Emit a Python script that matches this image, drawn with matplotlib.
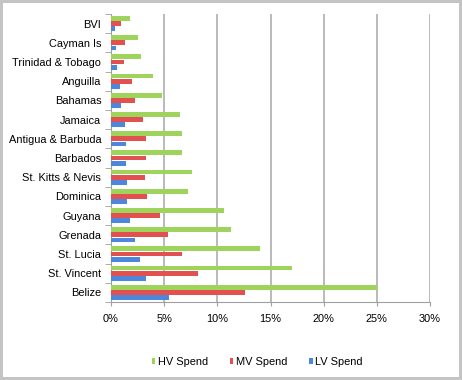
import matplotlib
matplotlib.use("Agg")
import matplotlib.pyplot as plt
import numpy as np
from matplotlib.ticker import FuncFormatter, FixedLocator

plt.rcParams['font.family'] = ['Liberation Sans', 'DejaVu Sans']

categories = ["BVI", "Cayman Is", "Trinidad & Tobago", "Anguilla", "Bahamas",
              "Jamaica", "Antigua & Barbuda", "Barbados", "St. Kitts & Nevis",
              "Dominica", "Guyana", "Grenada", "St. Lucia", "St. Vincent", "Belize"]
hv_spend = [1.8, 2.5, 2.8, 3.95, 4.8, 6.5, 6.7, 6.65, 7.6, 7.2, 10.6, 11.3, 14.05, 17.0, 25.0]
mv_spend = [0.9, 1.3, 1.25, 2.0, 2.3, 3.0, 3.3, 3.3, 3.2, 3.4, 4.6, 5.4, 6.65, 8.2, 12.6]
lv_spend = [0.4, 0.5, 0.55, 0.8, 0.95, 1.3, 1.4, 1.4, 1.55, 1.55, 1.8, 2.25, 2.75, 3.25, 5.45]
xticks = [0, 5, 10, 15, 20, 25, 30]

fig = plt.figure(figsize=(4.62, 3.80), dpi=100)
fig.patch.set_facecolor('white')
fig.patch.set_edgecolor('#c4c4c4')
fig.patch.set_linewidth(3)

ax = fig.add_axes([111/462, 1 - 302/380, (430-111)/462, (302-14)/380])

n = len(categories)
y = np.arange(n)
h = 0.25
off = 0.27
green = '#9ed35c'
red = '#e2504f'
blue = '#4c86dd'
ax.barh(y - off, hv_spend, height=h, color=green, label='HV Spend', zorder=3)
ax.barh(y, mv_spend, height=h, color=red, label='MV Spend', zorder=3)
ax.barh(y + off, lv_spend, height=h, color=blue, label='LV Spend', zorder=3)

ax.set_ylim(n - 0.5, -0.5)
ax.set_xlim(0, 30)
ax.set_yticks(y)
ax.set_yticklabels(categories, fontsize=7.9)
ax.yaxis.set_minor_locator(FixedLocator(np.arange(-0.5, n, 1)))
ax.tick_params(axis='y', which='major', length=0, pad=7)
ax.tick_params(axis='y', which='minor', length=4, color='#a0a0a0', direction='out')
ax.set_xticks(xticks)
ax.xaxis.set_major_formatter(FuncFormatter(lambda v, p: f"{int(v)}%"))
ax.tick_params(axis='x', length=3, color='#a0a0a0', labelsize=7.9, pad=6)

ax.grid(axis='x', color='#b4b4b4', linewidth=1.3, zorder=0)
for s in ['top', 'right']:
    ax.spines[s].set_visible(False)
ax.spines['left'].set_color('#a0a0a0')
ax.spines['bottom'].set_color('#a0a0a0')
ax.set_facecolor('white')

leg = fig.legend(loc='center', bbox_to_anchor=(257/462, 1 - 362/380), ncol=3,
                 frameon=False, fontsize=7.9, handlelength=0.35, handleheight=0.35,
                 handletextpad=0.2, columnspacing=2.0)

fig.savefig('out.png', dpi=100, edgecolor=fig.get_edgecolor())
